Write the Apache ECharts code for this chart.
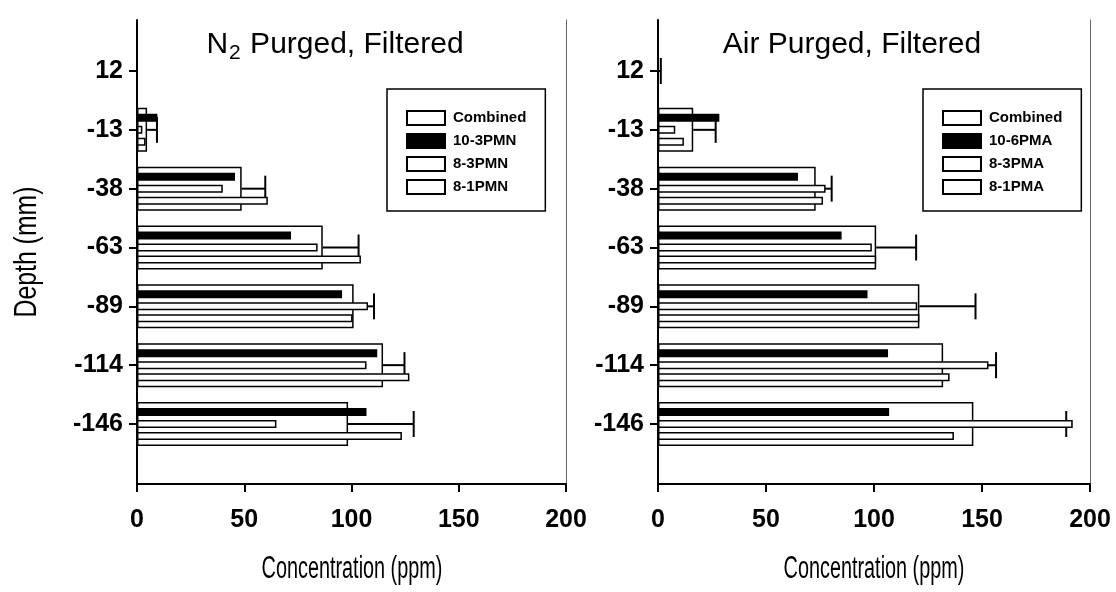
<!DOCTYPE html>
<html>
<head>
<meta charset="utf-8">
<script src="https://cdn.jsdelivr.net/npm/echarts@6/dist/echarts.min.js"></script>
<style>
  html, body { margin: 0; padding: 0; background: #fff; }
  #chart { width: 1116px; height: 592px; }
</style>
</head>
<body>
<div id="chart"></div>
<script>
// Depth categories (mm), top to bottom
const depthLabels = ['12', '-13', '-38', '-63', '-89', '-114', '-146'];

// N2 purged, filtered (ppm)
const n2Combined    = [0, 4.7, 48.8, 86.6, 101, 114.7, 98.4];
const n2CombinedErr = [0, 4.6, 11, 16.7, 9.5, 10, 30.6];
const n2_10_3PMN    = [0, 9.5, 45.7, 71.8, 95.6, 112, 107];
const n2_8_3PMN     = [0, 2.5, 40, 84.2, 107.7, 107, 65];
const n2_8_1PMN     = [0, 4, 61, 104.4, 100.5, 127, 123.5];

// Air purged, filtered (ppm)
const airCombined    = [0, 16.3, 73, 101, 121, 132, 146];
const airCombinedErr = [1.3, 10.4, 7.4, 18.5, 26, 24.5, 43];
const air_10_6PMA    = [0, 28.4, 64.8, 85, 97, 106.5, 107];
const air_8_3PMA     = [0, 8, 77.6, 99, 120, 153, 192];
const air_8_1PMA     = [0, 12, 76.4, 101, 121, 135, 137];

const xTicks = { min: 0, max: 200, interval: 50 };

const SANS = "'Liberation Sans', Arial, sans-serif";

const chart = echarts.init(document.getElementById('chart'), null, { renderer: 'canvas' });

const grids = [], xAxes = [], yAxes = [], series = [], legends = [];

function addPanel(p) {
  const gFrame = grids.length, gBars = gFrame + 1;
  // frame grid: axis lines and concentration ticks
  grids.push({ left: p.left, top: 20, width: p.width, height: 464 });
  // bar grid: category bands centred on the depth ticks
  grids.push({ left: p.left, top: 41.6, width: p.width, height: 411.8 });

  xAxes.push({
    gridIndex: gFrame, type: 'value', min: xTicks.min, max: xTicks.max, interval: xTicks.interval,
    axisLine: { show: true, lineStyle: { color: '#000', width: 2 } },
    axisTick: { show: true, inside: false, length: 8, lineStyle: { color: '#000', width: 2 } },
    axisLabel: { color: '#000', fontFamily: SANS, fontWeight: 'bold', fontSize: 25, margin: 24 },
    splitLine: { show: false }
  });
  const xBars = xAxes.length;
  xAxes.push({ gridIndex: gBars, type: 'value', min: xTicks.min, max: xTicks.max, show: false });

  yAxes.push({
    gridIndex: gFrame, type: 'value', min: 0, max: 1, position: 'left',
    axisLine: { show: true, lineStyle: { color: '#000', width: 2 } },
    axisTick: { show: false }, axisLabel: { show: false }, splitLine: { show: false }
  });
  yAxes.push({
    gridIndex: gFrame, type: 'value', min: 0, max: 1, position: 'right',
    axisLine: { show: true, lineStyle: { color: '#666', width: 1 } },
    axisTick: { show: false }, axisLabel: { show: false }, splitLine: { show: false }
  });
  const yCat = yAxes.length;
  yAxes.push({
    gridIndex: gBars, type: 'category', data: depthLabels, inverse: true, position: 'left',
    axisLine: { show: false },
    axisTick: { show: true, alignWithLabel: true, length: 8, lineStyle: { color: '#000', width: 2 } },
    axisLabel: { color: '#000', fontFamily: SANS, fontWeight: 'bold', fontSize: 25, margin: 14 }
  });
  const yCatBack = yAxes.length;
  yAxes.push({ gridIndex: gBars, type: 'category', data: depthLabels, inverse: true, position: 'left', show: false });

  const edge = { borderColor: '#000', borderWidth: 1.5 };
  series.push({
    name: 'Combined', type: 'bar', xAxisIndex: xBars, yAxisIndex: yCatBack,
    data: p.combined, barWidth: 44, z: 2,
    itemStyle: Object.assign({ color: '#fff' }, edge)
  });
  // error bars on the combined values
  series.push({
    type: 'custom', xAxisIndex: xBars, yAxisIndex: yCatBack, z: 3,
    data: p.combined.map((v, i) => [i, v, p.err[i]]),
    encode: { x: [1, 2], y: 0 },
    renderItem: (params, api) => {
      const i = api.value(0), v = api.value(1), e = api.value(2);
      if (!e) return null;
      const a = api.coord([v, i]);
      const b = api.coord([v + e, i]);
      const h = 13;
      return {
        type: 'group', children: [
          { type: 'line', shape: { x1: a[0], y1: a[1], x2: b[0], y2: b[1] }, style: { stroke: '#000', lineWidth: 2 } },
          { type: 'line', shape: { x1: b[0], y1: b[1] - h, x2: b[0], y2: b[1] + h }, style: { stroke: '#000', lineWidth: 2 } }
        ]
      };
    }
  });
  p.thin.forEach((s) => {
    series.push({
      name: s.name, type: 'bar', xAxisIndex: xBars, yAxisIndex: yCat,
      data: s.data, barWidth: 8, barGap: '50%', z: 4,
      itemStyle: Object.assign({ color: s.color }, edge)
    });
  });

  legends.push({
    data: ['Combined'].concat(p.thin.map(s => s.name)),
    left: p.legendLeft, top: 89, orient: 'vertical', icon: 'rect',
    itemWidth: 38, itemHeight: 14, itemGap: 7,
    borderColor: '#000', borderWidth: 1.5, padding: [21, 19, 16, 19],
    selectedMode: false,
    textStyle: { color: '#000', fontFamily: SANS, fontWeight: 'bold', fontSize: 15, padding: [0, 0, 0, 3] }
  });
}

addPanel({
  left: 137, width: 429, legendLeft: 387,
  combined: n2Combined, err: n2CombinedErr,
  thin: [
    { name: '10-3PMN', data: n2_10_3PMN, color: '#000' },
    { name: '8-3PMN', data: n2_8_3PMN, color: '#fff' },
    { name: '8-1PMN', data: n2_8_1PMN, color: '#fff' }
  ]
});
addPanel({
  left: 658, width: 432, legendLeft: 923,
  combined: airCombined, err: airCombinedErr,
  thin: [
    { name: '10-6PMA', data: air_10_6PMA, color: '#000' },
    { name: '8-3PMA', data: air_8_3PMA, color: '#fff' },
    { name: '8-1PMA', data: air_8_1PMA, color: '#fff' }
  ]
});

const nameStyle = { fontFamily: SANS, fontSize: 31, fill: '#000', align: 'center', verticalAlign: 'middle' };

chart.setOption({
  backgroundColor: '#fff',
  animation: false,
  grid: grids,
  xAxis: xAxes,
  yAxis: yAxes,
  legend: legends,
  series: series,
  graphic: [
    {
      type: 'text', x: 335, y: 45,
      style: {
        text: '{a|N}{s|2}{a| Purged, Filtered}',
        align: 'center', verticalAlign: 'middle',
        rich: {
          a: { fontFamily: SANS, fontSize: 30, color: '#000' },
          s: { fontFamily: SANS, fontSize: 21, color: '#000', padding: [16, 1, 0, 1] }
        }
      }
    },
    {
      type: 'text', x: 852, y: 45,
      style: { text: 'Air Purged, Filtered', fontFamily: SANS, fontSize: 30, fill: '#000', align: 'center', verticalAlign: 'middle' }
    },
    // condensed axis titles
    { type: 'text', x: 352, y: 569, scaleX: 0.64, style: Object.assign({ text: 'Concentration (ppm)' }, nameStyle) },
    { type: 'text', x: 874, y: 569, scaleX: 0.64, style: Object.assign({ text: 'Concentration (ppm)' }, nameStyle) },
    { type: 'text', x: 27, y: 252, rotation: Math.PI / 2, scaleX: 0.8, style: Object.assign({ text: 'Depth (mm)' }, nameStyle) }
  ]
});
</script>
</body>
</html>
